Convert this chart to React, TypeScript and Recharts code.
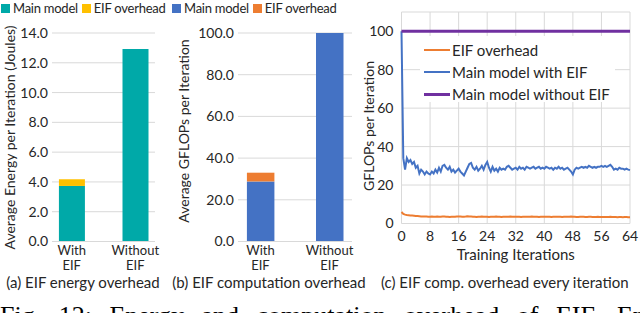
import React from 'react';
import { BarChart, Bar, XAxis, YAxis, CartesianGrid, LineChart, Line, Legend, Label } from 'recharts';

const FONT = "Lato, 'Open Sans', sans-serif";
const TEXT = '#262626';
const GRID = '#d9d9d9';

// ---------- data ----------
const barCategoryLines = [['With', 'EIF'], ['Without', 'EIF']];
const energyMain = [3.73, 12.93];
const energyOverhead = [0.45, 0];
const energyTicks = [0, 2, 4, 6, 8, 10, 12, 14];
const gflopsMain = [28.8, 100];
const gflopsOverhead = [4.2, 0];
const gflopsTicks = [0, 20, 40, 60, 80, 100];

const iterTicks = [0, 8, 16, 24, 32, 40, 48, 56, 64];
const lineYTicks = [0, 20, 40, 60, 80, 100];
// sampled every half iteration
const mainWithEif = [
  100, 34, 28, 34, 32, 33, 31, 32, 29, 30, 26, 28, 27, 25.5, 27, 26, 25.5, 27, 26, 28,
  26.5, 29, 27, 30, 30.5, 29, 28, 29.5, 27, 28, 26.5, 27.5, 28.5, 27, 26, 25, 27, 29, 31, 31.5,
  29, 28, 29.5, 27.5, 28.5, 30, 28, 30.5, 32, 29, 27, 29.5, 27.5, 28.5, 27, 29, 28, 28.5, 28, 29.5,
  30, 29, 28, 28.5, 29, 28, 29.5, 28.5, 29, 28, 29.5, 29, 28.5, 29, 29.5, 28.5, 29, 29.5, 28.5, 29,
  28.5, 29.5, 29, 28.5, 29, 28, 29, 28.5, 29.5, 28.5, 29, 28, 28.5, 29, 28, 27, 25.5, 28, 29, 28.5,
  29, 29.5, 29, 29.5, 29, 30, 29.5, 29, 29.5, 29, 29.5, 29.5, 30, 29.5, 30, 29.5, 30, 30.5, 29.5, 28,
  28.5, 28, 29, 28.5, 28.5, 28, 28.5, 28, 27.8,
];
const eifOverheadLine = [
  6.0, 5.0, 4.6, 4.4, 4.3, 4.2, 4.1, 4.0, 3.9, 3.9, 3.8, 3.7, 3.7, 3.6, 3.6, 3.5, 3.5, 3.6, 3.5, 3.5,
  3.6, 3.5, 3.5, 3.6, 3.6, 3.5, 3.5, 3.4, 3.5, 3.5, 3.5, 3.6, 3.7, 3.6, 3.5, 3.5, 3.6, 3.8, 3.7, 3.6,
  3.5, 3.5, 3.4, 3.5, 3.5, 3.6, 3.5, 3.5, 3.5, 3.4, 3.5, 3.5, 3.5, 3.6, 3.5, 3.5, 3.4, 3.5, 3.5, 3.5,
  3.5, 3.6, 3.5, 3.5, 3.5, 3.5, 3.5, 3.4, 3.5, 3.5, 3.5, 3.5, 3.5, 3.6, 3.5, 3.5, 3.5, 3.4, 3.5, 3.5,
  3.5, 3.5, 3.5, 3.5, 3.4, 3.5, 3.5, 3.5, 3.5, 3.5, 3.4, 3.5, 3.5, 3.5, 3.5, 3.6, 3.5, 3.5, 3.4, 3.4,
  3.5, 3.5, 3.5, 3.4, 3.4, 3.5, 3.5, 3.4, 3.4, 3.4, 3.5, 3.4, 3.4, 3.4, 3.4, 3.4, 3.4, 3.5, 3.4, 3.4,
  3.4, 3.3, 3.4, 3.4, 3.3, 3.4, 3.4, 3.3, 3.3,
];
const mainWithoutEifIters = [0, 64];
const mainWithoutEif = [100, 100];

const energyData = energyMain.map((m, i) => ({ x: i, main: m, overhead: energyOverhead[i] }));
const gflopsData = gflopsMain.map((m, i) => ({ x: i, main: m, overhead: gflopsOverhead[i] }));
const blueData = mainWithEif.map((v, i) => ({ iter: i / 2, v }));
const orangeData = eifOverheadLine.map((v, i) => ({ iter: i / 2, v }));
const purpleData = mainWithoutEif.map((v, i) => ({ iter: mainWithoutEifIters[i], v }));

const C_TEAL = '#00A9A8';
const C_YELLOW = '#FFC000';
const C_BLUE = '#4472C4';
const C_ORANGE = '#ED7D31';
const C_PURPLE = '#7030A0';

const CatTick = (props: any) => {
  const { x, y, payload } = props;
  const lines = barCategoryLines[Math.round(payload.value)] || [];
  return (
    <g>
      {lines.map((l, i) => (
        <text key={i} x={x} y={y + 3.5 + i * 15} textAnchor="middle" dominantBaseline="central"
          fill={TEXT} fontSize={13} fontFamily={FONT}>{l}</text>
      ))}
    </g>
  );
};

const vLabel = (text: string, lx: number, cy: number) => () => (
  <text x={lx} y={cy} transform={`rotate(-90 ${lx} ${cy})`} textAnchor="middle" dominantBaseline="central"
    fill={TEXT} fontSize={14} fontFamily={FONT}>{text}</text>
);

const SquareLegend = (items: { color: string; label: string }[]) => () => (
  <div style={{ display: 'flex', alignItems: 'center', whiteSpace: 'nowrap', fontFamily: FONT, fontSize: 13, letterSpacing: -0.25, color: TEXT, lineHeight: '16px' }}>
    {items.map((it, i) => (
      <span key={i} style={{ display: 'inline-flex', alignItems: 'center', marginRight: 4 }}>
        <span style={{ display: 'inline-block', width: 9, height: 9, background: it.color, marginRight: 3 }} />
        {it.label}
      </span>
    ))}
  </div>
);

const LineLegend = () => (
  <div style={{ background: '#fff', width: '100%', height: '100%', fontFamily: FONT, fontSize: 15, color: TEXT, paddingTop: 3, boxSizing: 'border-box' }}>
    {[
      { c: C_ORANGE, w: 2, t: 'EIF overhead' },
      { c: C_BLUE, w: 2, t: 'Main model with EIF' },
      { c: C_PURPLE, w: 3, t: 'Main model without EIF' },
    ].map((it, i) => (
      <div key={i} style={{ display: 'flex', alignItems: 'center', height: 22, whiteSpace: 'nowrap' }}>
        <span style={{ display: 'inline-block', width: 26, height: it.w, background: it.c, marginLeft: 4, marginRight: 2 }} />
        {it.t}
      </div>
    ))}
  </div>
);

const tickStyle = { fill: TEXT, fontSize: 14, fontFamily: FONT };

export default function App() {
  return (
    <div style={{ position: 'absolute', left: 0, top: 0, width: 640, height: 313, overflow: 'hidden', background: '#fff', fontFamily: FONT }}>
      {/* (a) */}
      <div style={{ position: 'absolute', left: 0, top: 0 }}>
        <BarChart width={170} height={285} data={energyData} margin={{ top: 33, right: 15, left: 0, bottom: 13 }}>
          <CartesianGrid vertical={false} stroke={GRID} />
          <XAxis type="number" dataKey="x" domain={[-0.31, 1.31]} ticks={[0, 1]} height={30.5}
            tick={<CatTick />} tickLine={false} tickSize={0} tickMargin={5} axisLine={{ stroke: GRID }} interval={0} />
          <YAxis width={52} domain={[0, 14]} ticks={energyTicks} tickFormatter={(v: number) => v.toFixed(1)}
            tick={tickStyle} tickLine={false} tickSize={0} tickMargin={4} axisLine={false}>
            <Label content={vLabel('Average Energy per Iteration (Joules)', 9, 137.5)} />
          </YAxis>
          <Legend layout="vertical" align="center" verticalAlign="middle"
            wrapperStyle={{ position: 'absolute', left: 1, top: 0, width: 170 }}
            content={SquareLegend([{ color: C_TEAL, label: 'Main model' }, { color: C_YELLOW, label: 'EIF overhead' }])} />
          <Bar dataKey="main" stackId="a" fill={C_TEAL} barSize={26} isAnimationActive={false} />
          <Bar dataKey="overhead" stackId="a" fill={C_YELLOW} barSize={26} isAnimationActive={false} />
        </BarChart>
      </div>

      {/* (b) */}
      <div style={{ position: 'absolute', left: 175, top: 0 }}>
        <BarChart width={185} height={285} data={gflopsData} margin={{ top: 33, right: 8, left: 0, bottom: 13 }}>
          <CartesianGrid vertical={false} stroke={GRID} />
          <XAxis type="number" dataKey="x" domain={[-0.325, 1.325]} ticks={[0, 1]} height={30.5}
            tick={<CatTick />} tickLine={false} tickSize={0} tickMargin={5} axisLine={{ stroke: GRID }} interval={0} />
          <YAxis width={63} domain={[0, 100]} ticks={gflopsTicks} tickFormatter={(v: number) => v.toFixed(1)}
            tick={tickStyle} tickLine={false} tickSize={0} tickMargin={4} axisLine={false}>
            <Label content={vLabel('Average GFLOPs per Iteration', 8, 131)} />
          </YAxis>
          <Legend layout="vertical" align="center" verticalAlign="middle"
            wrapperStyle={{ position: 'absolute', left: -3, top: 0, width: 190 }}
            content={SquareLegend([{ color: C_BLUE, label: 'Main model' }, { color: C_ORANGE, label: 'EIF overhead' }])} />
          <Bar dataKey="main" stackId="a" fill={C_BLUE} barSize={27.5} isAnimationActive={false} />
          <Bar dataKey="overhead" stackId="a" fill={C_ORANGE} barSize={27.5} isAnimationActive={false} />
        </BarChart>
      </div>

      {/* (c) */}
      <div style={{ position: 'absolute', left: 355, top: 0 }}>
        <LineChart width={285} height={270} margin={{ top: 12, right: 10, left: 0, bottom: 0 }}>
          <CartesianGrid stroke={GRID} />
          <XAxis type="number" dataKey="iter" domain={[0, 64]} ticks={iterTicks} height={46.5} interval={0}
            tick={tickStyle} tickLine={false} tickSize={0} tickMargin={8} axisLine={false}>
            <Label content={(p: any) => {
              const vb = p.viewBox || {};
              const cx = (vb.x || 0) + (vb.width || 0) / 2;
              return <text x={cx} y={254} textAnchor="middle" dominantBaseline="central" fill={TEXT} fontSize={15} fontFamily={FONT}>Training Iterations</text>;
            }} />
          </XAxis>
          <YAxis width={46.5} domain={[0, 110]} ticks={lineYTicks} allowDataOverflow
            tick={tickStyle} tickLine={false} tickSize={0} tickMargin={8} axisLine={false}>
            <Label content={vLabel('GFLOPs per Iteration', 13, 126)} />
          </YAxis>
          <Legend layout="vertical" align="center" verticalAlign="middle"
            wrapperStyle={{ position: 'absolute', left: 65, top: 36, width: 195, height: 66 }}
            content={LineLegend} />
          <Line data={orangeData} dataKey="v" stroke={C_ORANGE} strokeWidth={2} dot={false} isAnimationActive={false} />
          <Line data={blueData} dataKey="v" stroke={C_BLUE} strokeWidth={2} dot={false} isAnimationActive={false} />
          <Line data={purpleData} dataKey="v" stroke={C_PURPLE} strokeWidth={3} dot={false} isAnimationActive={false} />
        </LineChart>
      </div>

      {/* captions */}
      <div style={{ position: 'absolute', left: 0, top: 274.5, width: 166, textAlign: 'center', fontSize: 15, lineHeight: '14px', color: TEXT, whiteSpace: 'nowrap' }}>(a) EIF energy overhead</div>
      <div style={{ position: 'absolute', left: 170, top: 274.5, width: 198, textAlign: 'center', fontSize: 15, lineHeight: '14px', color: TEXT, whiteSpace: 'nowrap' }}>(b) EIF computation overhead</div>
      <div style={{ position: 'absolute', left: 381, top: 274.5, width: 262, textAlign: 'left', fontSize: 15, lineHeight: '14px', color: TEXT, whiteSpace: 'nowrap' }}>(c) EIF comp. overhead every iteration</div>

      <div style={{ position: 'absolute', left: 0, top: 301, fontFamily: "'Liberation Serif', serif", fontSize: 26, lineHeight: '30px', color: '#000', whiteSpace: 'nowrap', wordSpacing: 11 }}>
        Fig. 12: Energy and computation overhead of EIF. Energy
      </div>
    </div>
  );
}
